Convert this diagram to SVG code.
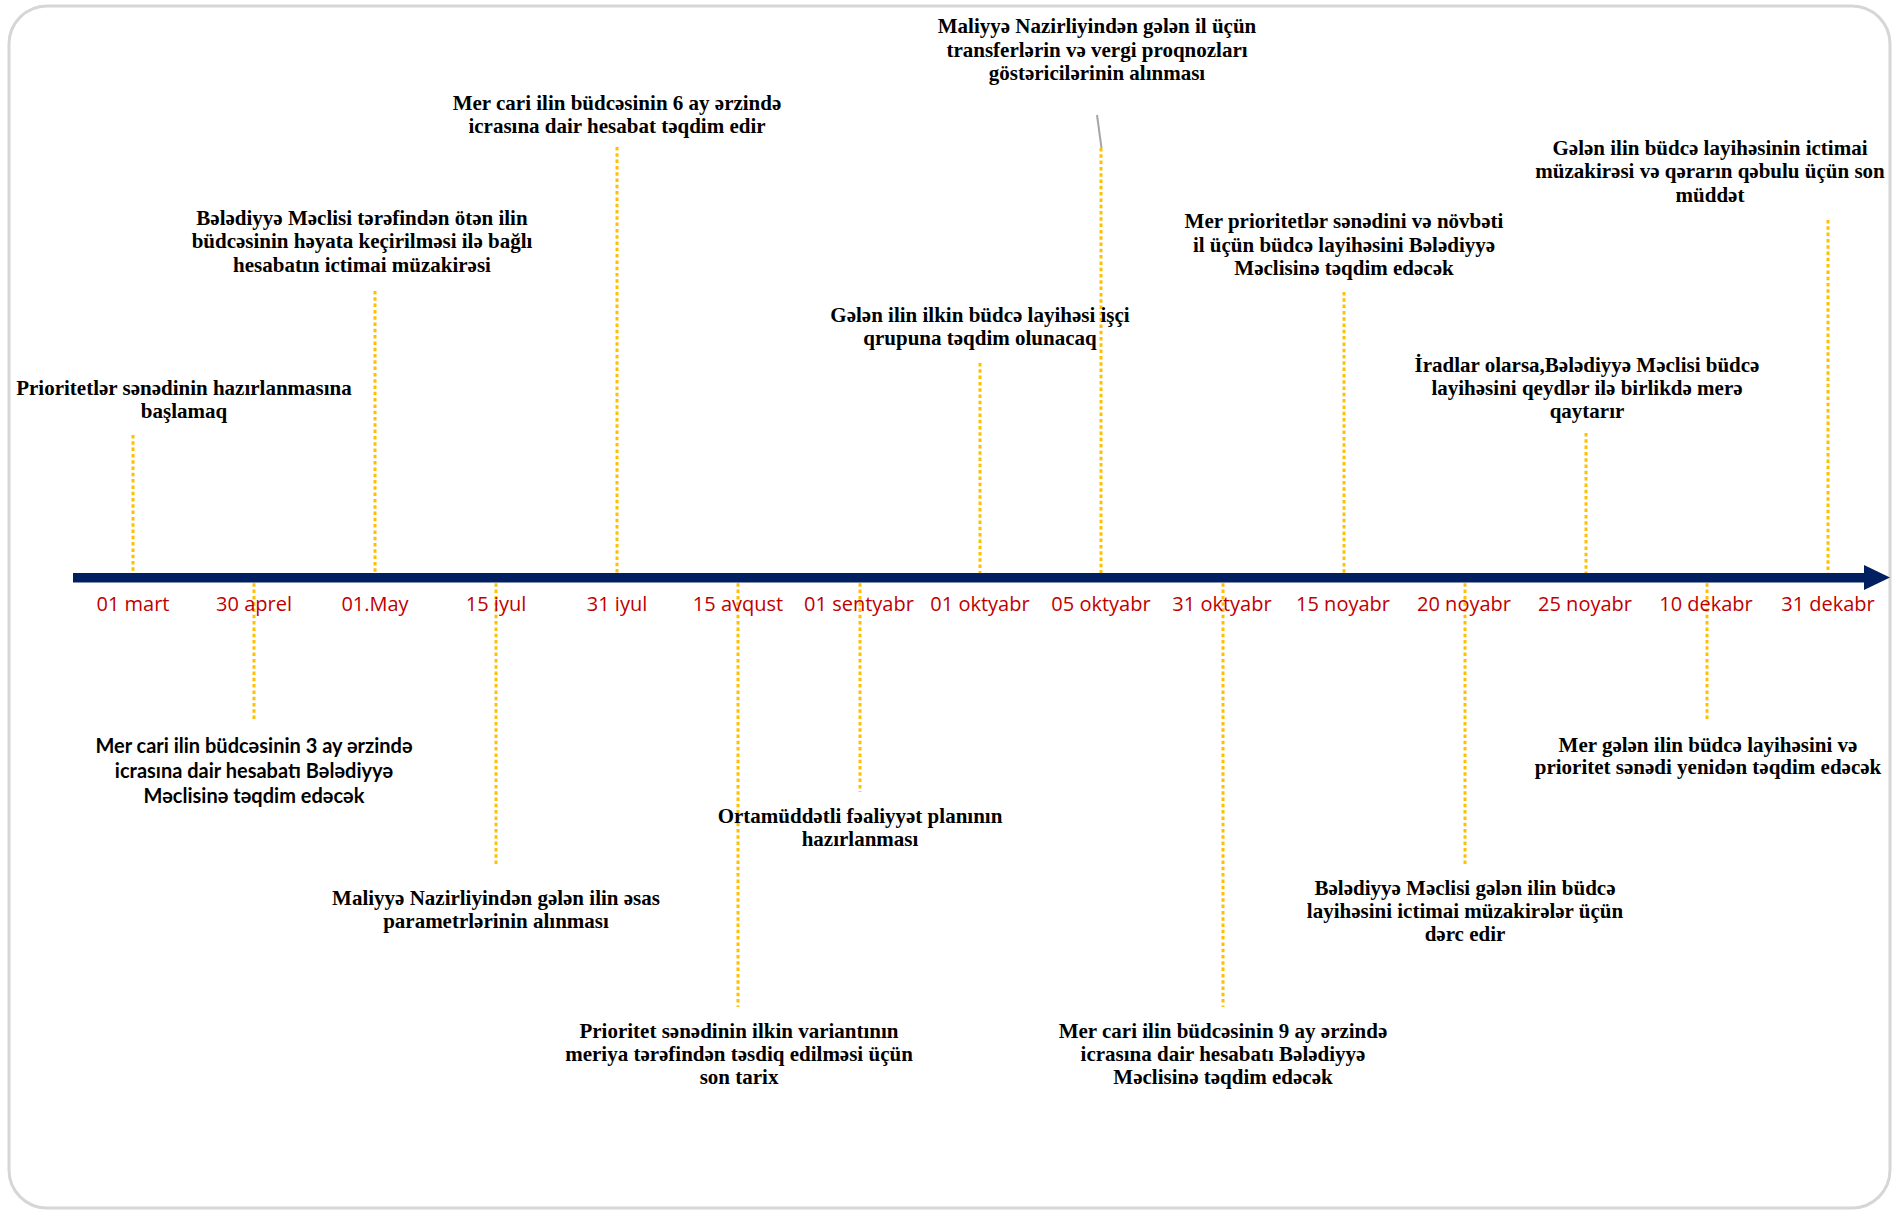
<svg xmlns="http://www.w3.org/2000/svg" width="1894" height="1211" viewBox="0 0 1894 1211">
<style>
.frame{fill:#ffffff;stroke:#d6d6d6;stroke-width:3}
.dot{stroke:#ffc000;stroke-width:3;stroke-dasharray:3.5 2.8;fill:none}
.lead{stroke:#a6a6a6;stroke-width:2;fill:none}
.axis{fill:#002060}
.date{font-family:"Open Sans","Noto Sans",sans-serif;font-size:20px;fill:#c00000;text-anchor:middle}
.t{font-family:"Liberation Serif","Times New Roman",serif;font-weight:bold;font-size:21px;fill:#000000;text-anchor:middle}
.s{font-family:Lato,"Open Sans",sans-serif;font-weight:bold;font-size:20px;fill:#000000;text-anchor:middle}
</style>
<rect class="frame" x="9" y="6" width="1881" height="1202" rx="38" ry="38"/>
<g id="connectors">
<line class="dot" x1="133" y1="435" x2="133" y2="577"/>
<line class="dot" x1="375" y1="291" x2="375" y2="577"/>
<line class="dot" x1="617" y1="147" x2="617" y2="577"/>
<line class="dot" x1="980" y1="363" x2="980" y2="577"/>
<line class="dot" x1="1101" y1="148" x2="1101" y2="577"/>
<line class="lead" x1="1097" y1="115" x2="1101.5" y2="148"/>
<line class="dot" x1="1344" y1="292" x2="1344" y2="577"/>
<line class="dot" x1="1586" y1="433" x2="1586" y2="577"/>
<line class="dot" x1="1828" y1="220" x2="1828" y2="577"/>
<line class="dot" x1="254" y1="577" x2="254" y2="721"/>
<line class="dot" x1="496" y1="577" x2="496" y2="864"/>
<line class="dot" x1="738" y1="577" x2="738" y2="1007"/>
<line class="dot" x1="860" y1="577" x2="860" y2="792"/>
<line class="dot" x1="1223" y1="577" x2="1223" y2="1007"/>
<line class="dot" x1="1465" y1="577" x2="1465" y2="864"/>
<line class="dot" x1="1707" y1="577" x2="1707" y2="721"/>
</g>
<g id="axis">
<rect class="axis" x="73" y="573" width="1795" height="9.5"/>
<polygon class="axis" points="1864,565 1890,577.5 1864,590"/>
</g>
<g id="dates">
<text class="date" x="133" y="611">01 mart</text>
<text class="date" x="254" y="611">30 aprel</text>
<text class="date" x="375" y="611">01.May</text>
<text class="date" x="496" y="611">15 iyul</text>
<text class="date" x="617" y="611">31 iyul</text>
<text class="date" x="738" y="611">15 avqust</text>
<text class="date" x="859" y="611">01 sentyabr</text>
<text class="date" x="980" y="611">01 oktyabr</text>
<text class="date" x="1101" y="611">05 oktyabr</text>
<text class="date" x="1222" y="611">31 oktyabr</text>
<text class="date" x="1343" y="611">15 noyabr</text>
<text class="date" x="1464" y="611">20 noyabr</text>
<text class="date" x="1585" y="611">25 noyabr</text>
<text class="date" x="1706" y="611">10 dekabr</text>
<text class="date" x="1828" y="611">31 dekabr</text>
</g>
<g id="n1">
<text class="t" x="184" y="395">Prioritetlər sənədinin hazırlanmasına</text>
<text class="t" x="184" y="418">başlamaq</text>
</g>
<g id="n2">
<text class="t" x="362" y="225">Bələdiyyə Məclisi tərəfindən ötən ilin</text>
<text class="t" x="362" y="248">büdcəsinin həyata keçirilməsi ilə bağlı</text>
<text class="t" x="362" y="272">hesabatın ictimai müzakirəsi</text>
</g>
<g id="n3">
<text class="t" x="617" y="110">Mer cari ilin büdcəsinin 6 ay ərzində</text>
<text class="t" x="617" y="133">icrasına dair hesabat təqdim edir</text>
</g>
<g id="n4">
<text class="t" x="1097" y="33">Maliyyə Nazirliyindən gələn il üçün</text>
<text class="t" x="1097" y="57">transferlərin və vergi proqnozları</text>
<text class="t" x="1097" y="80">göstəricilərinin alınması</text>
</g>
<g id="n5">
<text class="t" x="980" y="322">Gələn ilin ilkin büdcə layihəsi işçi</text>
<text class="t" x="980" y="345">qrupuna təqdim olunacaq</text>
</g>
<g id="n6">
<text class="t" x="1344" y="228">Mer prioritetlər sənədini və növbəti</text>
<text class="t" x="1344" y="252">il üçün büdcə layihəsini Bələdiyyə</text>
<text class="t" x="1344" y="275">Məclisinə təqdim edəcək</text>
</g>
<g id="n7">
<text class="t" x="1587" y="372">İradlar olarsa,Bələdiyyə Məclisi büdcə</text>
<text class="t" x="1587" y="395">layihəsini qeydlər ilə birlikdə merə</text>
<text class="t" x="1587" y="418">qaytarır</text>
</g>
<g id="n8">
<text class="t" x="1710" y="155">Gələn ilin büdcə layihəsinin ictimai</text>
<text class="t" x="1710" y="178">müzakirəsi və qərarın qəbulu üçün son</text>
<text class="t" x="1710" y="202">müddət</text>
</g>
<g id="n9">
<text class="s" x="254" y="753">Mer cari ilin büdcəsinin 3 ay ərzində</text>
<text class="s" x="254" y="778">icrasına dair hesabatı Bələdiyyə</text>
<text class="s" x="254" y="803">Məclisinə təqdim edəcək</text>
</g>
<g id="n10">
<text class="t" x="496" y="905">Maliyyə Nazirliyindən gələn ilin əsas</text>
<text class="t" x="496" y="928">parametrlərinin alınması</text>
</g>
<g id="n11">
<text class="t" x="739" y="1038">Prioritet sənədinin ilkin variantının</text>
<text class="t" x="739" y="1061">meriya tərəfindən təsdiq edilməsi üçün</text>
<text class="t" x="739" y="1084">son tarix</text>
</g>
<g id="n12">
<text class="t" x="860" y="823">Ortamüddətli fəaliyyət planının</text>
<text class="t" x="860" y="846">hazırlanması</text>
</g>
<g id="n13">
<text class="t" x="1465" y="895">Bələdiyyə Məclisi gələn ilin büdcə</text>
<text class="t" x="1465" y="918">layihəsini ictimai müzakirələr üçün</text>
<text class="t" x="1465" y="941">dərc edir</text>
</g>
<g id="n14">
<text class="t" x="1223" y="1038">Mer cari ilin büdcəsinin 9 ay ərzində</text>
<text class="t" x="1223" y="1061">icrasına dair hesabatı Bələdiyyə</text>
<text class="t" x="1223" y="1084">Məclisinə təqdim edəcək</text>
</g>
<g id="n15">
<text class="t" x="1708" y="752">Mer gələn ilin büdcə layihəsini və</text>
<text class="t" x="1708" y="774">prioritet sənədi yenidən təqdim edəcək</text>
</g>
</svg>
